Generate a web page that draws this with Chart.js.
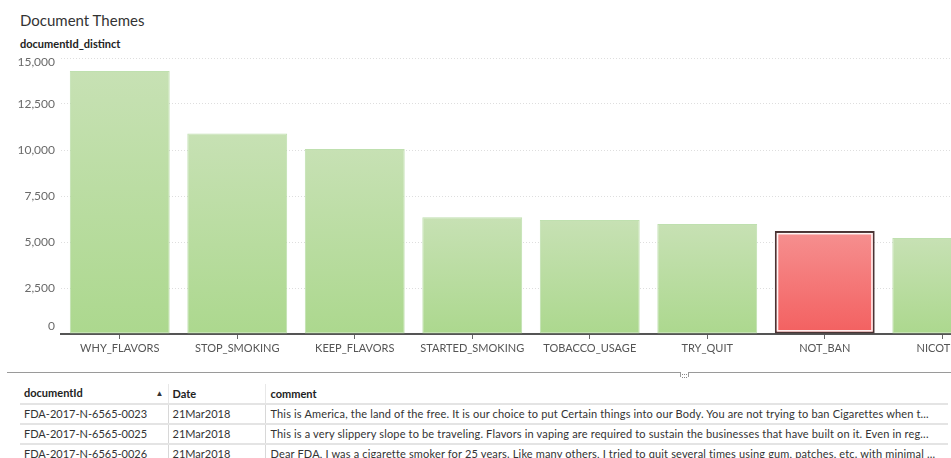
<!DOCTYPE html>
<html><head><meta charset="utf-8">
<script src="https://cdn.jsdelivr.net/npm/chart.js@4.4.1/dist/chart.umd.min.js"></script>
<style>
html,body{margin:0;padding:0;background:#fff;overflow:hidden;width:951px;height:458px;font-family:Lato,"Open Sans",sans-serif;}
#title{position:absolute;left:20px;top:11px;font-size:15px;color:#333;white-space:nowrap;}
#measure{position:absolute;left:20px;top:37px;font-size:11px;font-weight:bold;color:#222;white-space:nowrap;}
#chartWrap{position:absolute;left:0;top:50px;width:1001px;height:315px;}
#sep{position:absolute;left:7px;top:372px;width:944px;height:0;border-top:1px solid #9a9a9a;}
#handle{position:absolute;left:680px;top:372px;width:7px;height:5px;border-left:1px solid #9a9a9a;border-right:1px solid #9a9a9a;background:#fff;}
#handle:after{content:"";position:absolute;left:1px;top:2px;width:5px;height:2px;border-top:1px dotted #888;border-bottom:1px dotted #888;}
table{position:absolute;left:20px;top:384px;width:928px;border-collapse:collapse;table-layout:fixed;font-size:11px;color:#333;}
td,th{padding:0 0 1px 4px;height:17px;line-height:17px;white-space:nowrap;overflow:hidden;text-align:left;}
th{font-weight:bold;color:#222;border-bottom:2px solid #e4e4e4;}
th + th{border-left:1px solid #e8e8e8;}
td{border-bottom:2px solid #e4e4e4;}
td + td{border-left:1px solid #d8d8d8;}
td:nth-child(3){letter-spacing:0.16px;padding-left:5px;}
th:nth-child(3){padding-left:5px;}
.arrow{float:right;font-size:8px;margin-right:4px;line-height:18px;color:#333;}
</style></head>
<body>
<div id="title">Document Themes</div>
<div id="measure">documentId_distinct</div>
<div id="chartWrap"><canvas id="c"></canvas></div>
<div id="sep"></div>
<div id="handle"></div>
<table id="tbl">
<colgroup><col style="width:148px"><col style="width:97px"><col></colgroup>
<thead><tr><th>documentId<span class="arrow">▲</span></th><th>Date</th><th>comment</th></tr></thead>
<tbody></tbody>
</table>
<script>
const categories = ["WHY_FLAVORS","STOP_SMOKING","KEEP_FLAVORS","STARTED_SMOKING","TOBACCO_USAGE","TRY_QUIT","NOT_BAN","NICOTINE"];
const documentCounts = [14300, 10900, 10050, 6350, 6200, 5980, 5600, 5220];
const yTickValues = [0, 2500, 5000, 7500, 10000, 12500, 15000];
const selectedCategory = "NOT_BAN";

const docIds = ["FDA-2017-N-6565-0023","FDA-2017-N-6565-0025","FDA-2017-N-6565-0026"];
const docDates = ["21Mar2018","21Mar2018","21Mar2018"];
const docComments = [
  "This is America, the land of the free. It is our choice to put Certain things into our Body. You are not trying to ban Cigarettes when t...",
  "This is a very slippery slope to be traveling. Flavors in vaping are required to sustain the businesses that have built on it. Even in reg...",
  "Dear FDA, I was a cigarette smoker for 25 years.  Like many others, I tried to quit several times using gum, patches, etc. with minimal ..."
];

const tb = document.querySelector('#tbl tbody');
docIds.forEach((id,i)=>{
  const tr=document.createElement('tr');
  [id, docDates[i], docComments[i]].forEach(t=>{const td=document.createElement('td');td.textContent=t;tr.appendChild(td);});
  tb.appendChild(tr);
});

const FONT = 'Lato, "Open Sans", sans-serif';

function barGradient(ctx){
  const chart = ctx.chart;
  const sel = categories[ctx.dataIndex] === selectedCategory;
  if(!chart.chartArea) return sel ? '#f47a7a' : '#bcdda0';
  const ys = chart.scales.y;
  const top = ys.getPixelForValue(ctx.raw), bot = ys.getPixelForValue(0);
  const g = chart.ctx.createLinearGradient(0, top, 0, bot);
  if(sel){ g.addColorStop(0,'rgb(246,144,144)'); g.addColorStop(1,'rgb(243,96,96)'); }
  else { g.addColorStop(0,'rgb(199,225,180)'); g.addColorStop(1,'rgb(172,216,142)'); }
  return g;
}

const yLabelPlugin = {
  id:'yLabels',
  afterDraw(chart){
    const s = chart.scales.y, ca = chart.chartArea, c = chart.ctx;
    c.save();
    c.font = '12px ' + FONT;
    c.fillStyle = '#6a6a6a';
    c.textAlign = 'right';
    c.textBaseline = 'middle';
    s.ticks.forEach((t,i)=>{
      let y = s.getPixelForTick(i);
      y = Math.min(Math.max(y, ca.top + 4), ca.bottom - 8);
      c.fillText(t.value.toLocaleString('en-US'), 55, y);
    });
    c.restore();
  }
};

const selectPlugin = {
  id:'selOutline',
  afterDatasetsDraw(chart){
    const idx = categories.indexOf(selectedCategory);
    const el = chart.getDatasetMeta(0).data[idx];
    if(!el) return;
    const {x, y, base, width} = el.getProps(['x','y','base','width'], true);
    const c = chart.ctx;
    c.save();
    c.strokeStyle = 'rgba(255,255,255,0.9)';
    c.lineWidth = 1.5;
    c.strokeRect(x - width/2 + 2.75, y + 2.75, width - 5.5, base - y - 5.5);
    c.restore();
  }
};

new Chart(document.getElementById('c'), {
  type:'bar',
  data:{
    labels: categories,
    datasets:[{
      label:'documentId_distinct',
      data: documentCounts,
      backgroundColor: barGradient,
      borderColor: ctx => categories[ctx.dataIndex] === selectedCategory ? '#4a3434' : 'rgba(175,216,155,0.8)',
      borderWidth: ctx => categories[ctx.dataIndex] === selectedCategory ? 2 : 1,
      borderSkipped: false,
      barPercentage: 0.85,
      categoryPercentage: 1.0
    }]
  },
  options:{
    responsive:true,
    maintainAspectRatio:false,
    animation:false,
    layout:{padding:{top:8,right:0,left:0,bottom:0}},
    plugins:{legend:{display:false},tooltip:{enabled:false},title:{display:false}},
    scales:{
      y:{
        min:0,max:15000,
        afterBuildTicks(scale){ scale.ticks = yTickValues.map(v=>({value:v})); },
        afterFit(scale){ scale.width = 61; },
        ticks:{display:false},
        grid:{color: ctx => ctx.tick && ctx.tick.value === 0 ? 'rgba(0,0,0,0)' : '#dedede', drawTicks:false, lineWidth:1},
        border:{display:false, dash:[1,2]}
      },
      x:{
        offset:true,
        afterFit(scale){ scale.height = 31; },
        grid:{offset:false, drawOnChartArea:false, drawTicks:true, tickLength:5, color:'#666'},
        border:{display:true, color:'#555', width:2},
        ticks:{color:'#555', font:{family:FONT, size:11}, padding:3, maxRotation:0, autoSkip:false}
      }
    }
  },
  plugins:[yLabelPlugin, selectPlugin]
});
</script>
</body></html>
